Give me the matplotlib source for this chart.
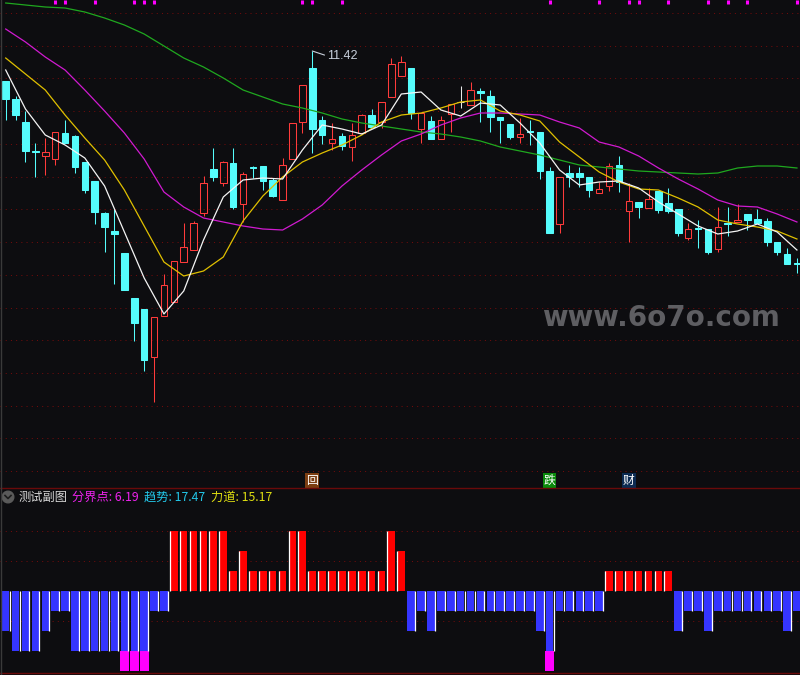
import matplotlib.pyplot as plt
from matplotlib.patches import Rectangle, Circle
import numpy as np

plt.rcParams['font.family'] = ['Noto Sans CJK SC', 'DejaVu Sans']

BG = '#0d0d10'
RED = '#ff3b3b'
CYAN = '#55fcfc'
GRID = '#6e0c0c'

# daily candles
opens = [11.12, 10.94, 10.71, 10.42, 10.37, 10.34, 10.60, 10.57, 10.31, 10.12,
         9.80, 9.62, 9.40, 8.95, 8.84, 8.36, 8.77, 8.91, 9.31, 9.43,
         9.80, 10.24, 10.10, 10.30, 9.89, 10.26, 10.27, 10.13, 9.93, 10.34,
         10.71, 11.25, 10.73, 10.50, 10.57, 10.46, 10.60, 10.78, 10.71, 10.96,
         11.17, 11.25, 10.64, 10.72, 10.54, 10.79, 10.91, 10.88, 11.02, 10.97,
         10.76, 10.69, 10.56, 10.62, 10.61, 10.22, 9.69, 10.20, 10.20, 10.16,
         10.00, 10.07, 10.28, 9.82, 9.91, 9.85, 10.02, 9.90, 9.84, 9.55,
         9.65, 9.64, 9.44, 9.70, 9.71, 9.79, 9.74, 9.72, 9.51, 9.39, 9.30]
highs = [11.12, 10.97, 10.82, 10.50, 10.55, 10.61, 10.73, 10.58, 10.31, 10.12,
         9.81, 9.84, 9.40, 8.95, 8.84, 8.76, 9.19, 9.32, 9.70, 9.72,
         10.17, 10.45, 10.32, 10.45, 10.21, 10.27, 10.27, 10.15, 10.35, 10.70,
         11.08, 11.42, 10.77, 10.70, 10.60, 10.70, 10.79, 10.84, 10.91, 11.35,
         11.37, 11.25, 10.80, 10.77, 10.77, 10.89, 11.07, 11.11, 11.05, 11.03,
         10.76, 10.69, 10.75, 10.73, 10.61, 10.26, 10.16, 10.28, 10.26, 10.16,
         10.11, 10.30, 10.37, 10.10, 9.91, 10.05, 10.02, 10.05, 9.84, 9.70,
         9.73, 9.64, 9.86, 9.86, 9.89, 9.79, 9.84, 9.75, 9.51, 9.45, 9.35]
lows = [10.73, 10.73, 10.31, 10.16, 10.18, 10.28, 10.50, 10.20, 10.00, 9.69,
        9.41, 9.09, 9.03, 8.52, 8.22, 7.91, 8.77, 8.91, 9.31, 9.43,
        9.77, 10.12, 10.07, 9.84, 9.71, 10.15, 10.03, 9.96, 9.93, 10.34,
        10.60, 10.40, 10.49, 10.43, 10.43, 10.32, 10.60, 10.66, 10.65, 10.96,
        11.17, 10.74, 10.50, 10.54, 10.54, 10.61, 10.85, 10.88, 10.71, 10.61,
        10.50, 10.54, 10.50, 10.48, 10.14, 9.60, 9.60, 10.06, 10.06, 9.96,
        10.00, 10.02, 10.01, 9.51, 9.75, 9.85, 9.80, 9.80, 9.57, 9.53,
        9.45, 9.39, 9.41, 9.57, 9.71, 9.63, 9.70, 9.47, 9.38, 9.29, 9.20]
closes = [10.94, 10.78, 10.42, 10.41, 10.41, 10.61, 10.50, 10.26, 10.03, 9.81,
          9.66, 9.59, 9.03, 8.70, 8.33, 8.76, 9.08, 9.32, 9.46, 9.70,
          10.10, 10.16, 10.31, 9.86, 10.19, 10.25, 10.12, 9.97, 10.28, 10.70,
          11.08, 10.64, 10.58, 10.54, 10.47, 10.58, 10.78, 10.66, 10.91, 11.29,
          11.31, 10.80, 10.80, 10.54, 10.73, 10.89, 10.91, 11.03, 11.00, 10.76,
          10.73, 10.56, 10.59, 10.61, 10.22, 9.60, 10.16, 10.16, 10.16, 10.03,
          10.04, 10.27, 10.11, 9.92, 9.86, 9.94, 9.83, 9.82, 9.60, 9.64,
          9.64, 9.41, 9.66, 9.69, 9.73, 9.73, 9.70, 9.51, 9.41, 9.29, 9.29]

# moving averages read every second day
ma_days = list(range(0, 81, 2))
ma5 = [11.23, 10.84, 10.58, 10.48, 10.35, 10.07, 9.61, 9.15, 8.79, 9.02, 9.53,
       9.96, 10.13, 10.15, 10.14, 10.43, 10.68, 10.64, 10.59, 10.68, 10.99,
       11.01, 10.83, 10.77, 10.90, 10.88, 10.70, 10.50, 10.23, 10.08, 10.11,
       10.12, 10.05, 9.91, 9.79, 9.67, 9.59, 9.62, 9.69, 9.61, 9.43]
ma10 = [11.35, 11.19, 11.03, 10.78, 10.55, 10.33, 10.03, 9.67, 9.31, 9.17, 9.22,
        9.36, 9.72, 9.97, 10.16, 10.31, 10.40, 10.48, 10.58, 10.71, 10.78,
        10.80, 10.85, 10.91, 10.93, 10.82, 10.78, 10.72, 10.51, 10.36, 10.21,
        10.11, 10.04, 10.03, 9.95, 9.86, 9.73, 9.69, 9.66, 9.62, 9.54]
ma20 = [11.64, 11.51, 11.36, 11.23, 11.03, 10.82, 10.60, 10.34, 10.01, 9.86, 9.75,
        9.71, 9.67, 9.64, 9.63, 9.74, 9.88, 10.07, 10.23, 10.38, 10.52,
        10.59, 10.68, 10.75, 10.80, 10.80, 10.79, 10.78, 10.71, 10.65, 10.51,
        10.46, 10.37, 10.25, 10.14, 10.04, 9.93, 9.87, 9.86, 9.79, 9.71]
ma60 = [11.90, 11.88, 11.86, 11.85, 11.81, 11.75, 11.68, 11.59, 11.47, 11.35, 11.26,
        11.15, 11.03, 10.96, 10.89, 10.85, 10.80, 10.74, 10.70, 10.67, 10.64,
        10.61, 10.59, 10.56, 10.52, 10.46, 10.42, 10.38, 10.33, 10.28, 10.26,
        10.24, 10.22, 10.21, 10.20, 10.19, 10.20, 10.25, 10.27, 10.27, 10.25]

# magenta marks along the top edge
top_marks = [5, 6, 9, 13, 14, 15, 30, 31, 34, 55, 60, 63, 64, 67, 71, 73, 75, 80]

# signal tags
tag_days = [31, 55, 63]
tag_text = ['回', '跌', '财']
tag_bg = {'回': '#7c3e12', '跌': '#0b8a0b', '财': '#0c2b52'}

# sub chart
force = [-40, -60, -60, -60, -40, -20, -20, -60, -60, -60, -60, -60, -60, -60, -60, -20, -20,
         60, 60, 60, 60, 60, 60, 20, 40, 20, 20, 20, 20, 60, 60, 20, 20, 20, 20, 20, 20, 20, 20, 60, 40,
         -40, -20, -40, -20, -20, -20, -20, -20, -20, -20, -20, -20, -20, -40, -60,
         -20, -20, -20, -20, -20, 20, 20, 20, 20, 20, 20, 20,
         -40, -20, -20, -40, -20, -20, -20, -20, -20, -20, -20, -40, -20]
deep_days = [12, 13, 14, 55]
boundary = 6.19
trend = 17.47
power = 15.17

LW = 0.75
n = len(opens)
x = np.arange(n)
xlim = (-0.576, 80.31)

fig = plt.figure(figsize=(8, 6.75), dpi=100, facecolor=BG)

# price panel
ax = fig.add_axes([0, 1 - 488 / 675, 1, 488 / 675])
ax.set_facecolor(BG)
ax.set_xlim(*xlim)
ax.set_ylim(7.05, 11.93)
for s in ax.spines.values():
    s.set_visible(False)
ax.set_xticks([])
ax.set_yticks([])

for g in 11.80 - 0.3273 * np.arange(15):
    ax.axhline(g, color=GRID, lw=LW, ls=(0, (1, 4)), zorder=0)

for i in range(n):
    o, h, l, c = opens[i], highs[i], lows[i], closes[i]
    if c > o:
        ax.vlines(i, c, h, color=RED, lw=LW, zorder=2)
        ax.vlines(i, l, o, color=RED, lw=LW, zorder=2)
        ax.add_patch(Rectangle((i - 0.33, o), 0.66, c - o, fill=False, ec=RED, lw=LW, zorder=2))
    elif c < o:
        ax.vlines(i, l, h, color=CYAN, lw=LW, zorder=2)
        ax.add_patch(Rectangle((i - 0.33, c), 0.66, o - c, fc=CYAN, ec=CYAN, lw=LW, zorder=2))
    else:
        ax.vlines(i, l, h, color='#e8e8e8', lw=LW, zorder=2)
        ax.hlines(c, i - 0.33, i + 0.33, color='#e8e8e8', lw=LW, zorder=2)

ax.plot(ma_days, ma60, color='#1fa81f', lw=0.9, zorder=3)
ax.plot(ma_days, ma20, color='#d01ad0', lw=0.9, zorder=3)
ax.plot(ma_days, ma10, color='#e0c000', lw=0.9, zorder=3)
ax.plot(ma_days, ma5, color='#f4f4f4', lw=0.9, zorder=3)

ax.vlines(top_marks, 11.89, 11.93, color='#ff00ff', lw=2.2, zorder=4)

i_max = int(np.argmax(highs))
ax.annotate(f'{highs[i_max]:.2f}', xy=(i_max, highs[i_max]), xytext=(15, -5),
            textcoords='offset pixels', color='#c8d0dc', fontsize=9,
            family='Liberation Sans', va='center', ha='left',
            arrowprops=dict(arrowstyle='-', color='#c8d0dc', lw=0.8,
                            shrinkA=0, shrinkB=0, relpos=(0, 0.5)))

for d, t in zip(tag_days, tag_text):
    ax.text(d, 7.125, t, color='white', fontsize=8.5, ha='center', va='center',
            bbox=dict(boxstyle='square,pad=0.08', fc=tag_bg[t], ec='none'), zorder=5)

# sub panel
ax2 = fig.add_axes([0, 2 / 675, 1, 185 / 675])
ax2.set_facecolor(BG)
ax2.set_xlim(*xlim)
ax2.set_ylim(-82.3, 102.7)
ax2.set_xticks([])
ax2.set_yticks([])
for k in ['left', 'right']:
    ax2.spines[k].set_visible(False)
for k in ['top', 'bottom']:
    ax2.spines[k].set_color('#6a0a0a')
    ax2.spines[k].set_linewidth(1.0)

for g in [60, 30, -30]:
    ax2.axhline(g, color=GRID, lw=LW, ls=(0, (1, 4)), zorder=0)

force = np.array(force)
cols = np.where(force > 0, '#ff0000', '#3535ff')
ax2.bar(x, force, width=0.76, color=cols, zorder=2)
edge = np.where(force > 0, x - 0.40, x + 0.40)
ax2.vlines(edge, 0, force, color='white', lw=0.9, zorder=3)
ax2.bar(deep_days, [-20] * len(deep_days), bottom=-60, width=0.92, color='#ff00ff', zorder=2)

# overlay in pixel units for header and watermark
ov = fig.add_axes([0, 0, 1, 1], zorder=10)
ov.set_xlim(0, 800)
ov.set_ylim(675, 0)
ov.axis('off')
ov.patch.set_alpha(0)
ov.plot([0.5, 0.5], [0, 675], color='#3a3a3a', lw=1)
ov.text(661, 318, 'www.6o7o.com', color='#5e5e62', fontsize=20, fontweight='bold',
        family='DejaVu Sans', ha='center', va='center')
ov.add_patch(Circle((8, 497), 5.8, color='#5a5a5a'))
ov.plot([5, 8, 11], [495.5, 498.5, 495.5], color='#1c1c1c', lw=1.2)
ov.text(19, 497, '测试副图', color='#d8d8d8', fontsize=8.8, va='center')
ov.text(72, 497, f'分界点: {boundary:.2f}', color='#ee22ee', fontsize=8.8, va='center')
ov.text(144, 497, f'趋势: {trend:.2f}', color='#22c8ea', fontsize=8.8, va='center')
ov.text(211, 497, f'力道: {power:.2f}', color='#dede10', fontsize=8.8, va='center')

fig.savefig('out.png', dpi=100, facecolor=BG)
plt.close()
